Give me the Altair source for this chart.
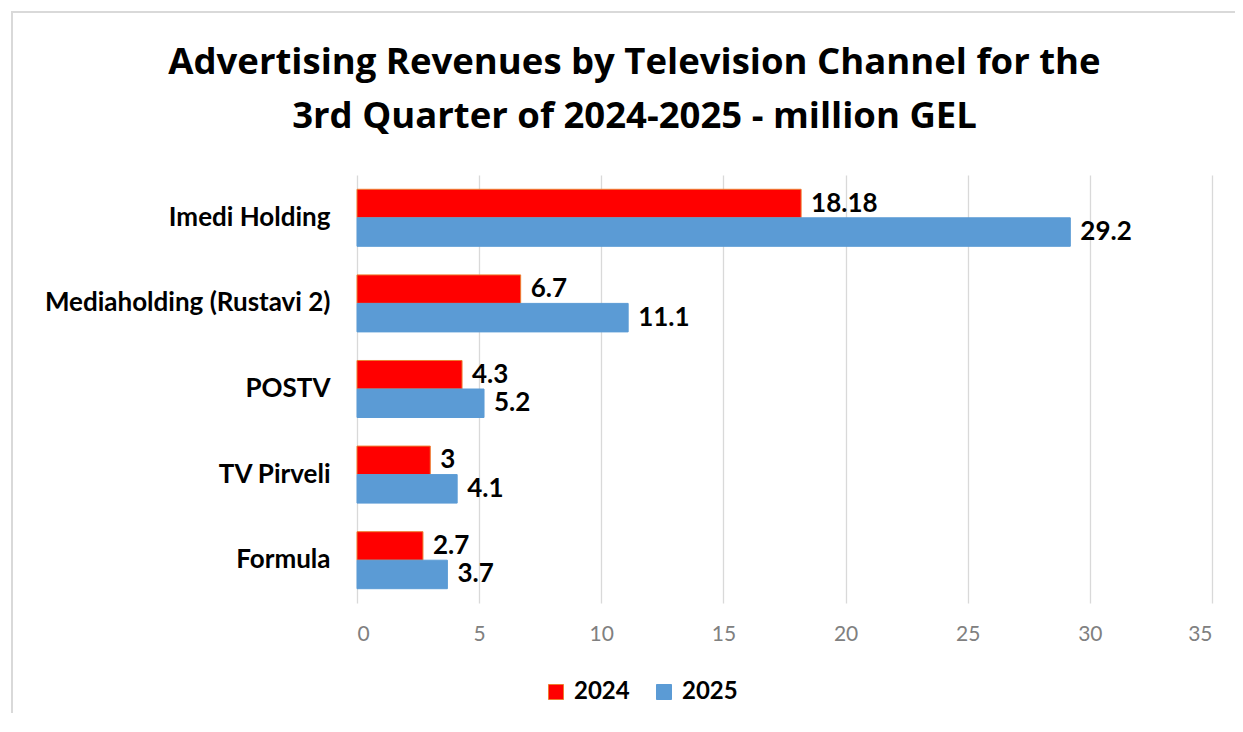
import altair as alt
import pandas as pd

channels = ["Imedi Holding", "Mediaholding (Rustavi 2)", "POSTV", "TV Pirveli", "Formula"]
years = ["2024", "2025"]
values_2024 = [18.18, 6.7, 4.3, 3, 2.7]
values_2025 = [29.2, 11.1, 5.2, 4.1, 3.7]

rows = []
for i, ch in enumerate(channels):
    rows.append({"Channel": ch, "Year": years[0], "Value": values_2024[i]})
    rows.append({"Channel": ch, "Year": years[1], "Value": values_2025[i]})
df = pd.DataFrame(rows)

FONT = "Lato"
TFONT = "Open Sans"

y_enc = alt.Y("Channel:N", sort=channels, title=None,
              scale=alt.Scale(paddingInner=0.334, paddingOuter=0.167),
              axis=alt.Axis(labelFontSize=26, labelFontWeight="bold", labelColor="#000000",
                            labelFont=FONT, labelPadding=27, labelLimit=400, ticks=False,
                            domain=False, grid=False))
x_enc = alt.X("Value:Q", title=None,
              scale=alt.Scale(domain=[0, 35], nice=False),
              axis=alt.Axis(values=[0, 5, 10, 15, 20, 25, 30, 35], labelFontSize=21,
                            labelColor="#808080", labelFont=FONT, labelPadding=20,
                            ticks=False, domain=False, grid=True, gridColor="#D9D9D9",
                            gridWidth=1.3))
yoff = alt.YOffset("Year:N", sort=years)

legend_opts = dict(orient="none", legendX=187, legendY=505,
                   direction="horizontal", symbolType="square",
                   symbolSize=225, labelFontSize=24,
                   labelFontWeight="bold", labelColor="#000000",
                   labelFont=FONT, columnPadding=22, labelOffset=6,
                   symbolStrokeWidth=1)

base = alt.Chart(df)

bars = base.mark_bar(strokeWidth=1).encode(
    y=y_enc,
    x=x_enc,
    yOffset=yoff,
    fill=alt.Fill("Year:N", title=None,
                  scale=alt.Scale(domain=years, range=["#FF0000", "#5B9BD5"]),
                  legend=alt.Legend(**legend_opts)),
    stroke=alt.Stroke("Year:N", title=None,
                      scale=alt.Scale(domain=years, range=["#ED7D31", "#5B9BD5"]),
                      legend=alt.Legend(**legend_opts)),
)

labels = base.mark_text(align="left", baseline="middle", dx=10, fontSize=26,
                        fontWeight="bold", font=FONT, color="#000000").encode(
    y=alt.Y("Channel:N", sort=channels),
    x=alt.X("Value:Q"),
    yOffset=yoff,
    text=alt.Text("Value:Q", format="~g"),
)

frame = alt.Chart(alt.Data(values=[{}])).mark_rect(
    fill=None, stroke="#D9D9D9", strokeWidth=2).encode(
    x=alt.value(-345), x2=alt.value(883), y=alt.value(-163), y2=alt.value(580))

chart = alt.layer(frame, bars, labels).properties(
    width=855,
    height=428,
    background="white",
    padding={"left": 349, "top": 167, "right": 23, "bottom": 110},
    autosize=alt.AutoSizeParams(type="none"),
    title=alt.Title(
        "Advertising Revenues by Television Channel for the",
        subtitle="3rd Quarter of 2024-2025 - million GEL",
        fontSize=36.5, font=TFONT, fontWeight="bold", color="#000000",
        subtitleFontSize=36.5, subtitleFont=TFONT, subtitleFontWeight="bold",
        subtitleColor="#000000", subtitlePadding=17,
        anchor="middle", frame="group", dx=-150, offset=-124),
).configure_view(stroke=None)

chart.save("out.html", embed_options={"renderer": "svg", "actions": False})
